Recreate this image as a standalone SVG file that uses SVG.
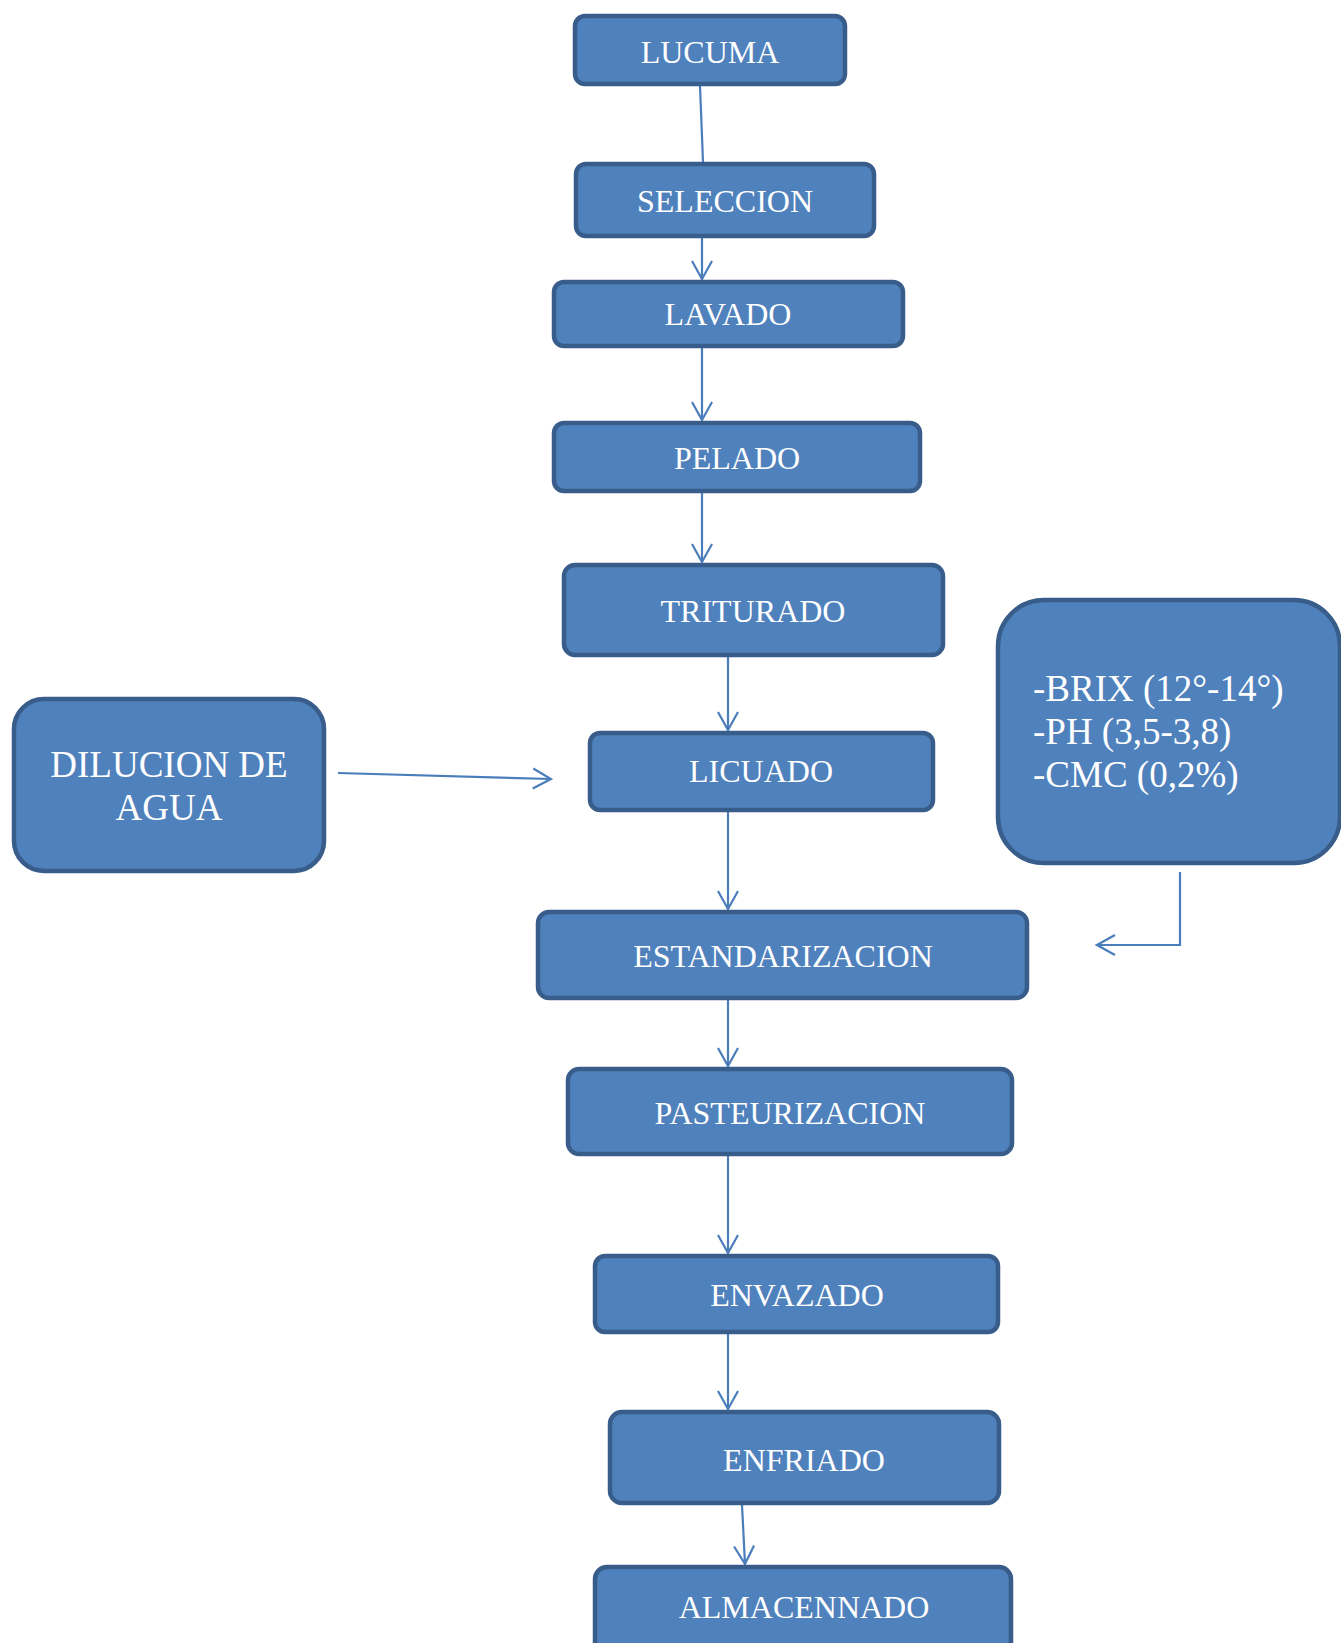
<svg xmlns="http://www.w3.org/2000/svg" width="1341" height="1643" viewBox="0 0 1341 1643">
<style>
.box{fill:#4F81BD;stroke:#385D8A;stroke-width:4.5}
.t{font-family:"Liberation Serif","Times New Roman",serif;font-size:32px;fill:#FFFFFF;text-anchor:middle}
.tb{font-family:"Liberation Serif","Times New Roman",serif;font-size:37px;fill:#FFFFFF}
.c{stroke:#4A7EBB;stroke-width:2.2;fill:none}
</style>
<defs>
<marker id="ah" viewBox="-20 -12 22 24" markerWidth="22" markerHeight="24" refX="0" refY="0" orient="auto" markerUnits="userSpaceOnUse">
<path d="M-18,-10 L0,0 L-18,10" fill="none" stroke="#4A7EBB" stroke-width="2.2"/>
</marker>
</defs>
<rect width="1341" height="1643" fill="#FFFFFF"/>
<g id="connectors">
<line class="c" x1="700" y1="86" x2="703" y2="162"/>
<line class="c" x1="702" y1="238" x2="702" y2="279" marker-end="url(#ah)"/>
<line class="c" x1="702" y1="348" x2="702" y2="420" marker-end="url(#ah)"/>
<line class="c" x1="702" y1="493" x2="702" y2="562" marker-end="url(#ah)"/>
<line class="c" x1="728" y1="657" x2="728" y2="730" marker-end="url(#ah)"/>
<line class="c" x1="728" y1="812" x2="728" y2="909" marker-end="url(#ah)"/>
<line class="c" x1="728" y1="1000" x2="728" y2="1066" marker-end="url(#ah)"/>
<line class="c" x1="728" y1="1156" x2="728" y2="1253" marker-end="url(#ah)"/>
<line class="c" x1="728" y1="1334" x2="728" y2="1409" marker-end="url(#ah)"/>
<line class="c" x1="742" y1="1505" x2="745" y2="1564" marker-end="url(#ah)"/>
<line class="c" x1="338" y1="773" x2="551" y2="779" marker-end="url(#ah)"/>
<path class="c" d="M1180,872 V945 H1097" marker-end="url(#ah)"/>
</g>
<g id="lucuma"><rect class="box" x="575" y="16" width="270" height="68" rx="10"/><text class="t" x="710" y="63">LUCUMA</text></g>
<g id="seleccion"><rect class="box" x="576" y="164" width="298" height="72" rx="10"/><text class="t" x="725" y="212">SELECCION</text></g>
<g id="lavado"><rect class="box" x="554" y="282" width="349" height="64" rx="10"/><text class="t" x="728" y="325">LAVADO</text></g>
<g id="pelado"><rect class="box" x="554" y="423" width="366" height="68" rx="10"/><text class="t" x="737" y="469">PELADO</text></g>
<g id="triturado"><rect class="box" x="564" y="565" width="379" height="90" rx="11"/><text class="t" x="753" y="622">TRITURADO</text></g>
<g id="licuado"><rect class="box" x="590" y="733" width="343" height="77" rx="10"/><text class="t" x="761" y="782">LICUADO</text></g>
<g id="estandarizacion"><rect class="box" x="538" y="912" width="489" height="86" rx="11"/><text class="t" x="783" y="967">ESTANDARIZACION</text></g>
<g id="pasteurizacion"><rect class="box" x="568" y="1069" width="444" height="85" rx="11"/><text class="t" x="790" y="1124">PASTEURIZACION</text></g>
<g id="envazado"><rect class="box" x="595" y="1256" width="403" height="76" rx="10"/><text class="t" x="797" y="1306">ENVAZADO</text></g>
<g id="enfriado"><rect class="box" x="610" y="1412" width="389" height="91" rx="12"/><text class="t" x="804" y="1471">ENFRIADO</text></g>
<g id="almacennado"><rect class="box" x="595" y="1567" width="416" height="92" rx="12"/><text class="t" x="804" y="1618">ALMACENNADO</text></g>
<g id="dilucion"><rect class="box" x="14" y="699" width="310" height="172" rx="30"/><text class="tb" x="169" y="777" text-anchor="middle">DILUCION DE</text><text class="tb" x="169" y="820" text-anchor="middle">AGUA</text></g>
<g id="parametros"><rect class="box" x="998" y="600" width="342" height="263" rx="46"/><text class="tb" x="1033" y="701">-BRIX (12°-14°)</text><text class="tb" x="1033" y="744">-PH (3,5-3,8)</text><text class="tb" x="1033" y="787">-CMC (0,2%)</text></g>
</svg>
